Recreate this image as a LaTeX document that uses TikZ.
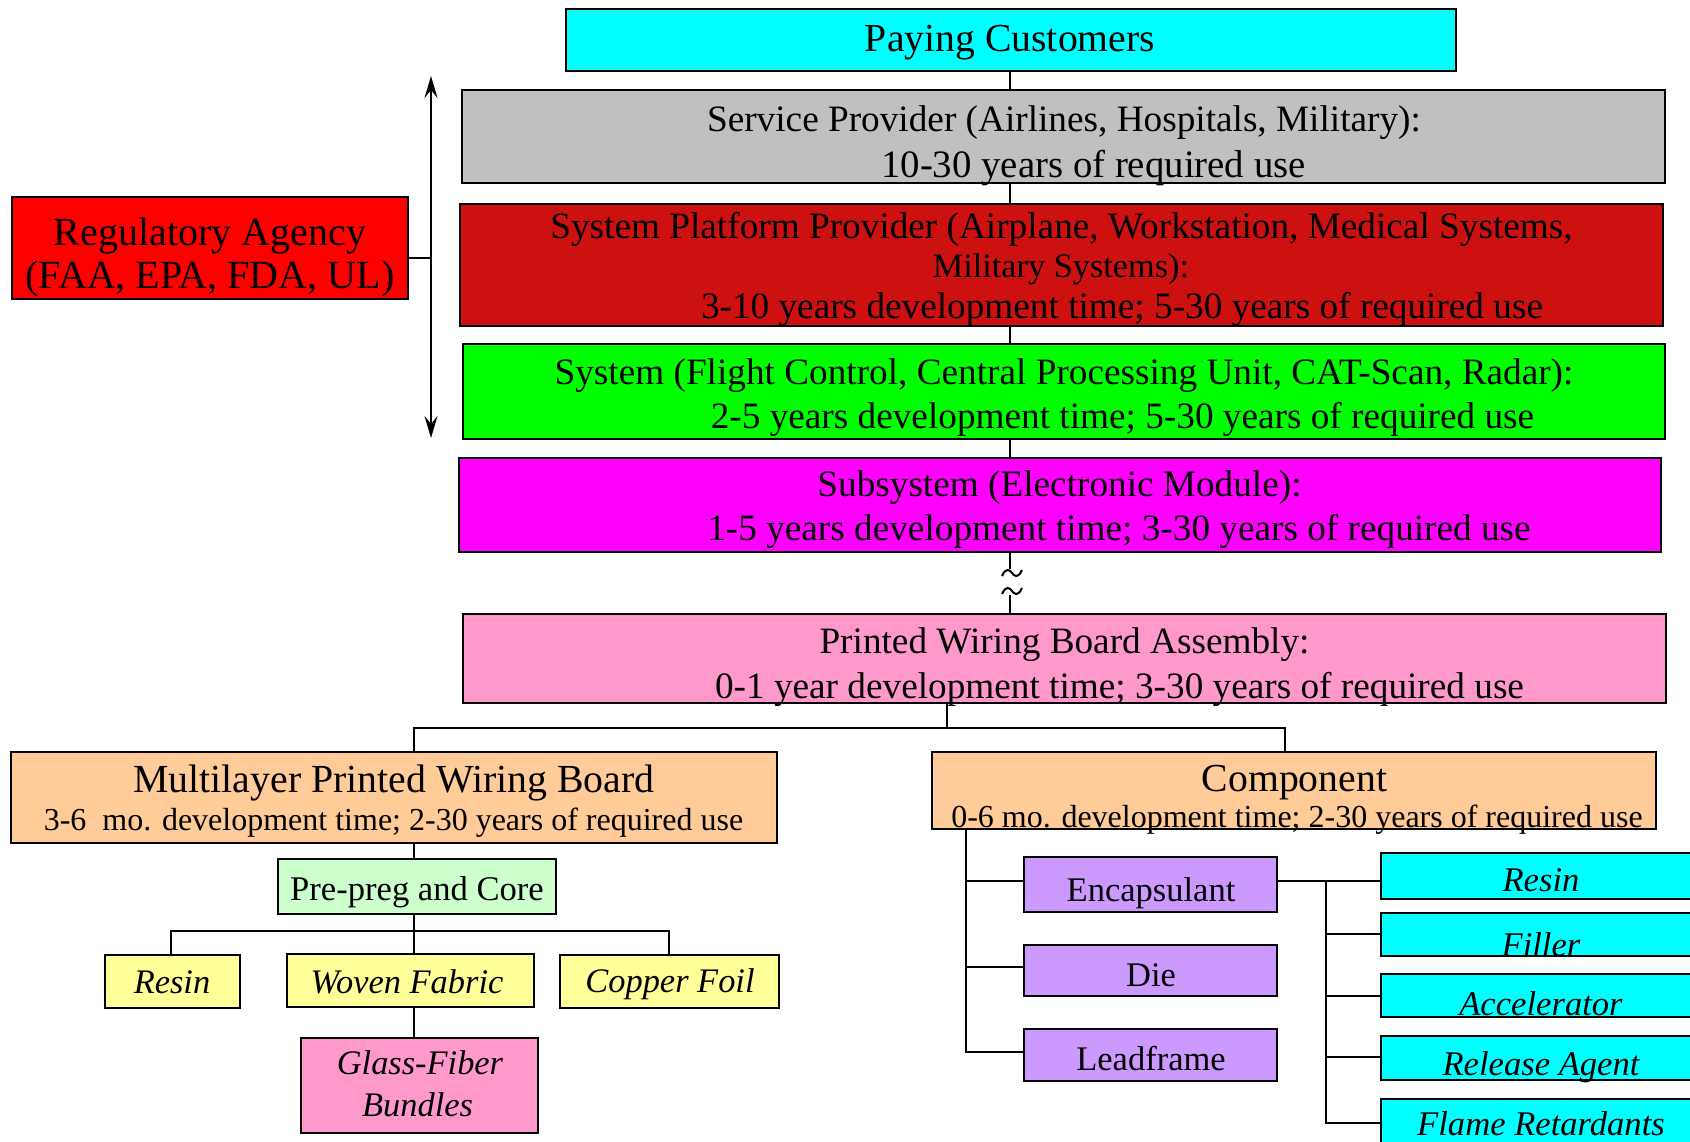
\documentclass[tikz,border=0pt]{standalone}
\usepackage{fontspec}
\setmainfont{Liberation Serif}
\usetikzlibrary{arrows.meta,calc}
\definecolor{cCyan}{RGB}{0,255,255}
\definecolor{cGray}{RGB}{192,192,192}
\definecolor{cDark}{RGB}{205,17,17}
\definecolor{cRed}{RGB}{255,0,0}
\definecolor{cGreen}{RGB}{0,255,0}
\definecolor{cMag}{RGB}{255,0,255}
\definecolor{cPink}{RGB}{255,153,204}
\definecolor{cPeach}{RGB}{255,204,153}
\definecolor{cMint}{RGB}{204,255,204}
\definecolor{cYel}{RGB}{255,255,153}
\definecolor{cLil}{RGB}{204,153,255}
\newcommand{\myfs}[1]{\fontsize{#1}{#1}\selectfont}
\begin{document}
\begin{tikzpicture}[x=1pt,y=-1pt,
  box/.style={draw=black, line width=2pt, inner sep=0pt, outer sep=0pt, anchor=north west},
  lbl/.style={anchor=base, inner sep=0pt, outer sep=0pt},
  conn/.style={line width=2pt, line join=miter},
  dbl/.style={{Stealth[length=22pt,width=13pt,inset=8pt]}-{Stealth[length=22pt,width=13pt,inset=8pt]}}]
\useasboundingbox (0,0) rectangle (1690,1142);
\clip (0,0) rectangle (1690,1142);
\fill[white] (0,0) rectangle (1690,1142);

% ---------- boxes ----------
\node[box, fill=cCyan, minimum width=890pt, minimum height=62pt] (pay) at (566,9) {};
\node[box, fill=cGray, minimum width=1203pt, minimum height=93pt] (svc) at (462,90) {};
\node[box, fill=cDark, minimum width=1203pt, minimum height=122pt] (plat) at (460,204) {};
\node[box, fill=cGreen, minimum width=1202pt, minimum height=95pt] (sys) at (463,344) {};
\node[box, fill=cMag, minimum width=1202pt, minimum height=94pt] (sub) at (459,458) {};
\node[box, fill=cPink, minimum width=1203pt, minimum height=89pt] (pwba) at (463,614) {};
\node[box, fill=cRed, minimum width=396pt, minimum height=102pt] (reg) at (12,197) {};
\node[box, fill=cPeach, minimum width=766pt, minimum height=91pt] (mpwb) at (11,752) {};
\node[box, fill=cPeach, minimum width=724pt, minimum height=77pt] (comp) at (932,752) {};
\node[box, fill=cMint, minimum width=278pt, minimum height=55pt] (prep) at (278,859) {};
\node[box, fill=cYel, minimum width=135pt, minimum height=53pt] (yres) at (105,955) {};
\node[box, fill=cYel, minimum width=247pt, minimum height=53pt] (woven) at (287,954) {};
\node[box, fill=cYel, minimum width=219pt, minimum height=53pt] (copper) at (560,955) {};
\node[box, fill=cPink, minimum width=237pt, minimum height=95pt] (glass) at (301,1038) {};
\node[box, fill=cLil, minimum width=253pt, minimum height=55pt] (enc) at (1024,857) {};
\node[box, fill=cLil, minimum width=253pt, minimum height=51pt] (die) at (1024,945) {};
\node[box, fill=cLil, minimum width=253pt, minimum height=52pt] (lead) at (1024,1029) {};
\node[box, fill=cCyan, minimum width=318pt, minimum height=46pt] (cres) at (1381,853) {};
\node[box, fill=cCyan, minimum width=318pt, minimum height=43pt] (cfil) at (1381,913) {};
\node[box, fill=cCyan, minimum width=318pt, minimum height=43pt] (cacc) at (1381,974) {};
\node[box, fill=cCyan, minimum width=318pt, minimum height=44pt] (crel) at (1381,1036) {};
\node[box, fill=cCyan, minimum width=318pt, minimum height=51pt] (cfla) at (1381,1099) {};

% ---------- texts ----------
\node[lbl, font=\myfs{39.7}] (payT) at (1010,51.5) {Paying Customers};
\node[lbl, font=\myfs{37.25}] (svcT1) at (1064,132) {Service Provider (Airlines, Hospitals, Military):};
\node[lbl, font=\myfs{38.8}] (svcT2) at (1093.5,177.5) {10-30 years of required use};
\node[lbl, font=\myfs{37.25}] (platT1) at (1061.5,238.5) {System Platform Provider (Airplane, Workstation, Medical Systems,};
\node[lbl, font=\myfs{34.3}] (platT2) at (1061,277) {Military Systems):};
\node[lbl, font=\myfs{37.25}] (platT3) at (1122,318) {3-10 years development time; 5-30 years of required use};
\node[lbl, font=\myfs{37.25}] (sysT1) at (1064,384) {System (Flight Control, Central Processing Unit, CAT-Scan, Radar):};
\node[lbl, font=\myfs{37.25}] (sysT2) at (1122.5,428.5) {2-5 years development time; 5-30 years of required use};
\node[lbl, font=\myfs{37.25}] (subT1) at (1059.5,496) {Subsystem (Electronic Module):};
\node[lbl, font=\myfs{37.25}] (subT2) at (1119,540.5) {1-5 years development time; 3-30 years of required use};
\node[lbl, font=\myfs{37.25}] (pwbaT1) at (1064.5,653.5) {Printed Wiring Board Assembly:};
\node[lbl, font=\myfs{37.25}] (pwbaT2) at (1119.5,698) {0-1 year development time; 3-30 years of required use};
\node[lbl, font=\myfs{40}] (regT1) at (210,246) {Regulatory Agency};
\node[lbl, font=\myfs{40}] (regT2) at (210,288.3) {(FAA, EPA, FDA, UL)};
\node[lbl, font=\myfs{39.8}] (mpwbT1) at (394,792.7) {Multilayer Printed Wiring Board};
\node[lbl, font=\myfs{32}] (mpwbT2) at (393.5,830) {3-6\ \ mo. development time; 2-30 years of required use};
\node[lbl, font=\myfs{39.7}] (compT1) at (1294.5,791.5) {Component};
\node[lbl, font=\myfs{32}] (compT2) at (1297,827) {0-6 mo. development time; 2-30 years of required use};
\node[lbl, font=\myfs{34.6}] (prepT) at (417,900.3) {Pre-preg and Core};
\node[lbl, font=\myfs{34.4}\itshape] (yresT) at (172,993) {Resin};
\node[lbl, font=\myfs{34.4}\itshape] (wovenT) at (407,993) {Woven Fabric};
\node[lbl, font=\myfs{34.4}\itshape] (copperT) at (670,992) {Copper Foil};
\node[lbl, font=\myfs{34.4}\itshape] (glassT1) at (420,1074.5) {Glass-Fiber};
\node[lbl, font=\myfs{34.4}\itshape] (glassT2) at (417.6,1116) {Bundles};
\node[lbl, font=\myfs{34.5}] (encT) at (1151,901) {Encapsulant};
\node[lbl, font=\myfs{34.5}] (dieT) at (1151,986.5) {Die};
\node[lbl, font=\myfs{34.5}] (leadT) at (1151,1070.5) {Leadframe};
\node[lbl, font=\myfs{34.6}\itshape] (cresT) at (1541,891.5) {Resin};
\node[lbl, font=\myfs{34.6}\itshape] (cfilT) at (1541,956) {Filler};
\node[lbl, font=\myfs{34.6}\itshape] (caccT) at (1541,1015.5) {Accelerator};
\node[lbl, font=\myfs{34.6}\itshape] (crelT) at (1541,1075.5) {Release Agent};
\node[lbl, font=\myfs{34.6}\itshape] (cflaT) at (1541,1135) {Flame Retardants};

% ---------- spine ----------
\coordinate (spine) at (1010,0);
\draw[conn] (spine |- pay.south) -- (spine |- svc.north);
\draw[conn] (spine |- svc.south) -- (spine |- plat.north);
\draw[conn] (spine |- plat.south) -- (spine |- sys.north);
\draw[conn] (spine |- sys.south) -- (spine |- sub.north);

% break symbol between subsystem and PWBA
\coordinate (wt) at (1012,573);
\coordinate (wb) at (1012,591);
\draw[conn] (spine |- sub.south) -- (1010,569);
\draw[conn] ($(wt)+(-10,3)$) .. controls ($(wt)+(-6,-6)$) and ($(wt)+(-2,-3)$) .. (wt)
            .. controls ($(wt)+(2,3)$) and ($(wt)+(6,6)$) .. ($(wt)+(10,-3)$);
\draw[conn] ($(wb)+(-10,3)$) .. controls ($(wb)+(-6,-6)$) and ($(wb)+(-2,-3)$) .. (wb)
            .. controls ($(wb)+(2,3)$) and ($(wb)+(6,6)$) .. ($(wb)+(10,-3)$);
\draw[conn] (1010,595) -- (spine |- pwba.north);

% regulatory agency arrow
\coordinate (arrtop) at (431,76);
\coordinate (arrbot) at (431,438);
\coordinate (regj) at (431,258);
\draw[conn, dbl] (arrtop) -- (arrbot);
\draw[conn] (regj -| reg.east) -- (regj);

% PWBA to its two children
\coordinate (pj) at (947,727.5);
\coordinate (lj) at (414,727.5);
\coordinate (rj) at (1285,727.5);
\draw[conn] (pj |- pwba.south) -- (pj);
\draw[conn] (lj |- mpwb.north) -- (lj) -- (rj) -- (rj |- comp.north);

% multilayer board branch
\draw[conn] (lj |- mpwb.south) -- (lj |- prep.north);
\coordinate (pa) at (171,931);
\coordinate (pm) at (414,931);
\coordinate (pb) at (669,931);
\draw[conn] (pm |- prep.south) -- (pm);
\draw[conn] (pa |- yres.north) -- (pa) -- (pb) -- (pb |- copper.north);
\draw[conn] (pm) -- (pm |- woven.north);
\draw[conn] (pm |- woven.south) -- (pm |- glass.north);

% component branch
\coordinate (ce) at (966,881);
\coordinate (cd) at (966,967);
\coordinate (cl) at (966,1052);
\draw[conn] (ce |- comp.south) -- (cl) -- (cl -| lead.west);
\draw[conn] (ce) -- (ce -| enc.west);
\draw[conn] (cd) -- (cd -| die.west);

% encapsulant branch
\coordinate (ee) at (1326,881);
\coordinate (ef) at (1326,934);
\coordinate (ea) at (1326,996);
\coordinate (er) at (1326,1057);
\coordinate (efl) at (1326,1123);
\draw[conn] (ee -| enc.east) -- (ee -| cres.west);
\draw[conn] (ee) -- (efl) -- (efl -| cfla.west);
\draw[conn] (ef) -- (ef -| cfil.west);
\draw[conn] (ea) -- (ea -| cacc.west);
\draw[conn] (er) -- (er -| crel.west);
\end{tikzpicture}
\end{document}
